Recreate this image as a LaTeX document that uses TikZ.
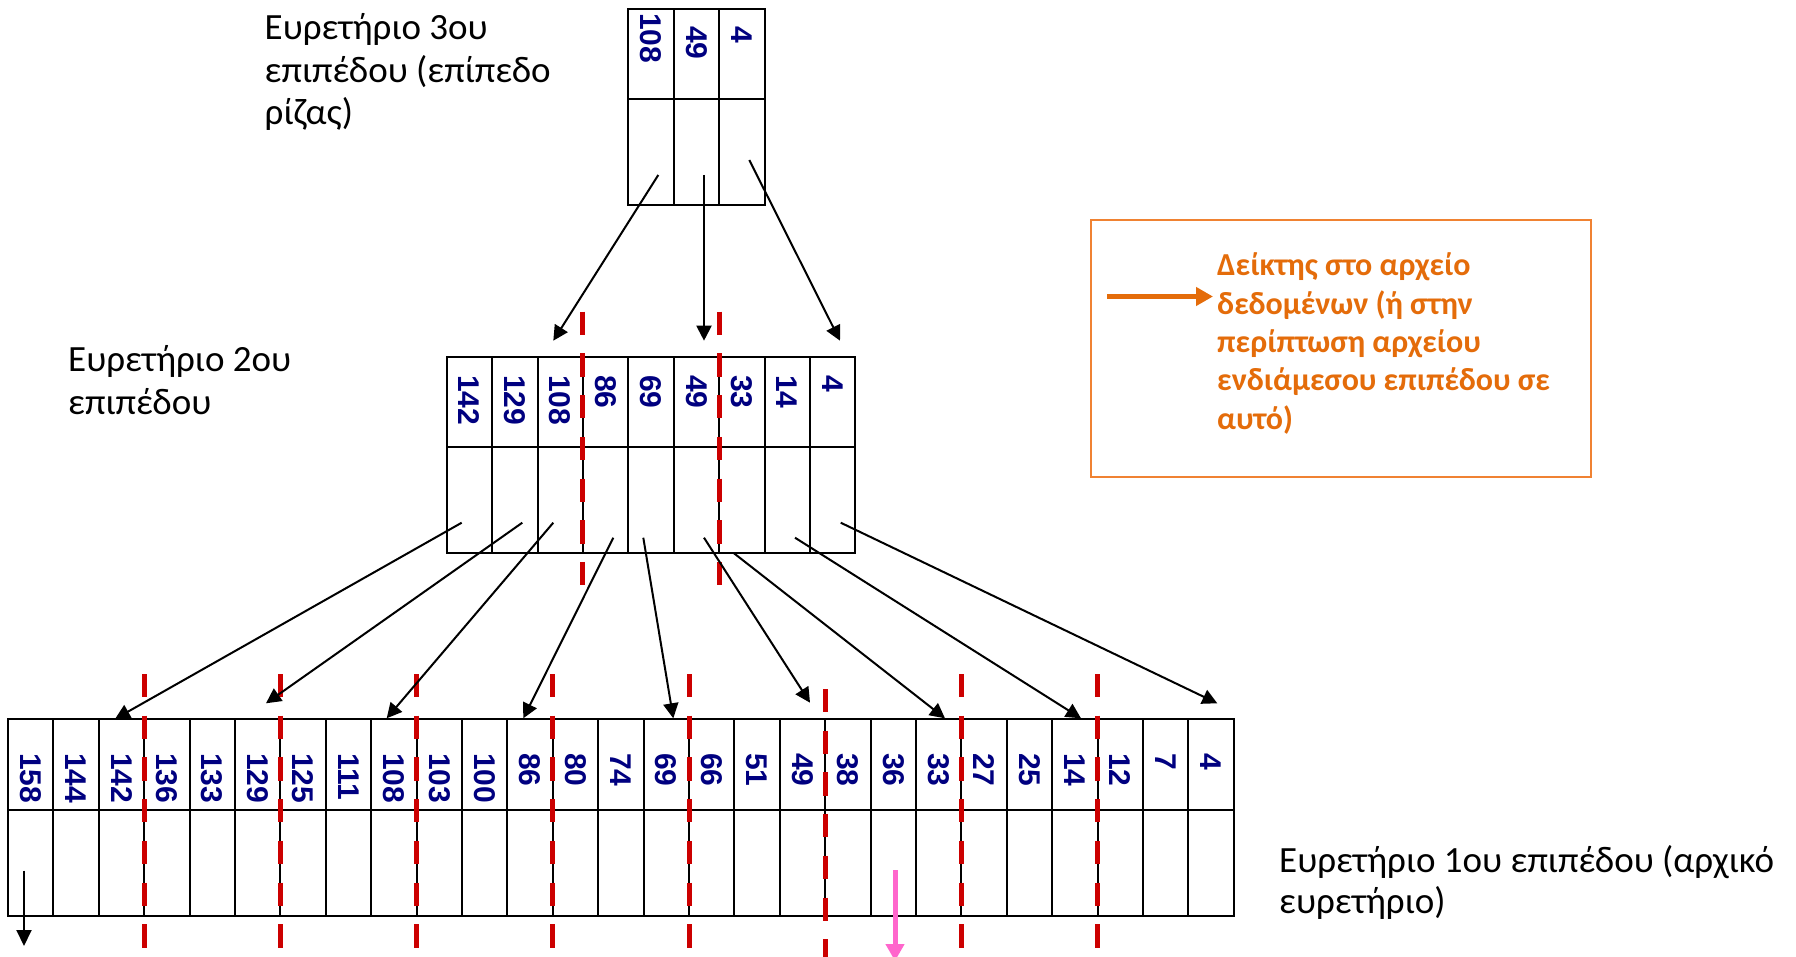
\documentclass[tikz,border=0pt]{standalone}
\usepackage{fontspec}
\setmainfont{Carlito}
\newfontfamily\numfont{Liberation Sans}
\usetikzlibrary{arrows.meta}
\definecolor{navyk}{RGB}{0,0,128}
\definecolor{redd}{RGB}{204,0,0}
\definecolor{orgtext}{RGB}{228,108,10}
\definecolor{orgline}{RGB}{240,130,50}
\definecolor{pinkk}{RGB}{255,102,204}
\begin{document}
\begin{tikzpicture}[x=1pt,y=-1pt,
  cellbox/.style={draw=black, line width=2pt, inner sep=0pt, outer sep=0pt, minimum width=45.4pt, anchor=north west},
  keynum/.style={rotate=-90, anchor=west, inner sep=0pt, text=navyk, font=\numfont\bfseries\fontsize{30}{30}\selectfont},
  ptr/.style={draw=black, line width=2pt, -{Triangle[length=15pt,width=15pt]}},
  split/.style={draw=redd, line width=5pt, dash pattern=on 23.3pt off 18.4pt},
  lbl/.style={anchor=base west, inner sep=0pt, font=\fontsize{37}{42}\selectfont},
  legtxt/.style={anchor=base west, inner sep=0pt, text=orgtext, font=\bfseries\fontsize{32}{38}\selectfont}]
\useasboundingbox (0,0) rectangle (1796,957);
\fill[white] (0,0) rectangle (1796,957);

% ---------- level 3 (root) ----------
\foreach \v/\s [count=\i from 0] in {108/13,49/26,4/26} {
  \node[cellbox, minimum height=90.3pt] (R\i k) at ({628.3+45.4*\i},9) {};
  \node[cellbox, minimum height=105.7pt] (R\i p) at ({628.3+45.4*\i},99.3) {};
  \node[keynum] (R\i n) at ({628.3+45.4*\i+22.7},\s) {\v};
}

% ---------- level 2 ----------
\foreach \v [count=\i from 0] in {142,129,108,86,69,49,33,14,4} {
  \node[cellbox, minimum height=90pt] (M\i k) at ({446.7+45.4*\i},356.7) {};
  \node[cellbox, minimum height=106.6pt] (M\i p) at ({446.7+45.4*\i},446.7) {};
  \node[keynum] (M\i n) at ({446.7+45.4*\i+22.7},375) {\v};
}

% ---------- level 1 ----------
\foreach \v [count=\i from 0] in {158,144,142,136,133,129,125,111,108,103,100,86,80,74,69,66,51,49,38,36,33,27,25,14,12,7,4} {
  \node[cellbox, minimum height=91pt] (B\i k) at ({8+45.4*\i},719) {};
  \node[cellbox, minimum height=106pt] (B\i p) at ({8+45.4*\i},810) {};
  \node[keynum] (B\i n) at ({8+45.4*\i+22.7},753) {\v};
}

% ---------- red split lines ----------
\draw[split] (582.9,311.7) -- (582.9,585.2);
\draw[split] (719.1,311.7) -- (719.1,585.2);
\foreach \xx in {144.2,280.4,416.6,552.8,689,961.4,1097.6} {
  \draw[split] (\xx,674) -- (\xx,947.5);
}
\draw[split] (825.2,689) -- (825.2,957);

% ---------- pointer coordinates ----------
\coordinate (t1s) at (658.3,175);  \coordinate (t1e) at (553.3,340.7);
\coordinate (t2s) at (704,175);    \coordinate (t2e) at (704,340.7);
\coordinate (t3s) at (749.3,160);  \coordinate (t3e) at (840,340.7);

\coordinate (a1s) at (461.7,522.7); \coordinate (a1e) at (115,719);
\coordinate (a2s) at (522.3,522.7); \coordinate (a2e) at (266,703.3);
\coordinate (a3s) at (553.3,522.7); \coordinate (a3e) at (386.7,718.3);
\coordinate (a4s) at (613.3,537.7); \coordinate (a4e) at (523.3,718.3);
\coordinate (a5s) at (643.3,537.7); \coordinate (a5e) at (673.3,718.3);
\coordinate (a6s) at (704,537.7);   \coordinate (a6e) at (810,702.7);
\coordinate (a7s) at (734,553.3);   \coordinate (a7e) at (945,718.3);
\coordinate (a8s) at (795,537.7);   \coordinate (a8e) at (1081,718.3);
\coordinate (a9s) at (840.7,522.7); \coordinate (a9e) at (1217.3,703.3);

\coordinate (d1s) at (24,870.7);    \coordinate (d1e) at (24,946);
\coordinate (pks) at (895,870);     \coordinate (pke) at (895,961);

\foreach \n in {t1,t2,t3,a1,a2,a3,a4,a5,a6,a7,a8,a9} {
  \draw[ptr] (\n s) -- (\n e);
}
\draw[draw=black, line width=2pt, -{Triangle[length=16pt,width=15pt]}] (d1s) -- (d1e);
\draw[draw=pinkk, line width=5pt, -{Triangle[length=17pt,width=18pt]}] (pks) -- (pke);

% ---------- labels ----------
\node[lbl] (l3a) at (264.5,40) {Ευρετήριο 3ου};
\node[lbl] (l3b) at (264.5,82.5) {επιπέδου (επίπεδο};
\node[lbl] (l3c) at (264.5,125) {ρίζας)};

\node[lbl] (l2a) at (68,372) {Ευρετήριο 2ου};
\node[lbl] (l2b) at (68,414.5) {επιπέδου};

\node[lbl] (l1a) at (1279,872.5) {Ευρετήριο 1ου επιπέδου (αρχικό};
\node[lbl] (l1b) at (1279,913.5) {ευρετήριο)};

% ---------- legend ----------
\node[draw=orgline, line width=2pt, inner sep=0pt, outer sep=0pt, anchor=north west,
      minimum width=500pt, minimum height=256.7pt] (legbox) at (1091,220) {};
\coordinate (lgs) at (1107,296.5);
\coordinate (lge) at (1213,296.5);
\draw[draw=orgtext, line width=4.7pt, -{Triangle[length=17pt,width=18pt]}] (lgs) -- (lge);
\node[legtxt] (g1) at (1217,276) {Δείκτης στο αρχείο};
\node[legtxt] (g2) at (1217,314.3) {δεδομένων (ή στην};
\node[legtxt] (g3) at (1217,352.7) {περίπτωση αρχείου};
\node[legtxt] (g4) at (1217,391) {ενδιάμεσου επιπέδου σε};
\node[legtxt] (g5) at (1217,429.3) {αυτό)};
\end{tikzpicture}
\end{document}
